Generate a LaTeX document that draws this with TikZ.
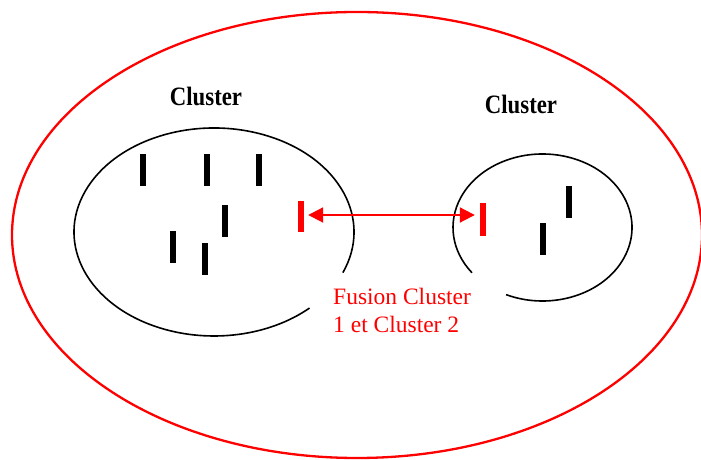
\documentclass[tikz,border=0pt]{standalone}
\usepackage{fontspec}
\setmainfont{Liberation Serif}
\usetikzlibrary{arrows.meta,calc}
\begin{document}
\begin{tikzpicture}[x=1pt,y=1pt,
  pt/.style={fill=black,draw=none,minimum width=6pt,minimum height=32pt,inner sep=0pt},
  redpt/.style={fill=red,draw=none,minimum width=6pt,inner sep=0pt},
  clabel/.style={anchor=base,inner sep=0pt,font=\fontsize{26.5}{30}\selectfont\bfseries},
  ftext/.style={anchor=base west,inner sep=0pt,align=left,text=red,font=\fontsize{23.5}{28}\selectfont},
  clus/.style={draw=black,line width=1.6pt},
  fusion/.style={draw=red,line width=2.3pt}]
\useasboundingbox (0,0) rectangle (701,460);
% outer red ellipse
\draw[fusion] (357,225) ellipse [x radius=345pt, y radius=223pt];
% left cluster (open arc)
\draw[clus] ($(214,228)+(-23:140pt and 104pt)$) arc [start angle=-23, end angle=313, x radius=140pt, y radius=104pt];
% right cluster (open arc)
\draw[clus] ($(542.5,232.5)+(246:89.5pt and 73.5pt)$) arc [start angle=246, end angle=578, x radius=89.5pt, y radius=73.5pt];
% labels
\node[clabel] (l1) at (206,354) {\scalebox{0.86}[1]{Cluster}};
\node[clabel] (l2) at (521,346) {\scalebox{0.86}[1]{Cluster}};
% black points
\node[pt] (a1) at (143,290) {};
\node[pt] (a2) at (207,290) {};
\node[pt] (a3) at (259,290) {};
\node[pt] (a4) at (225,238.5) {};
\node[pt] (a5) at (173,212.5) {};
\node[pt] (a6) at (205,201) {};
\node[pt] (b1) at (569,258) {};
\node[pt] (b2) at (543,220.5) {};
% red points
\node[redpt,minimum height=31pt] (lbar) at (301,243.5) {};
\node[redpt,minimum height=33pt] (rbar) at (483,240.5) {};
\coordinate (arrowL) at ([shift={(4pt,1.5pt)}]lbar.east);
\coordinate (arrowR) at ([xshift=-5pt]rbar.west |- arrowL);
\draw[red,line width=2pt,{Triangle[length=15pt,width=15pt]}-{Triangle[length=15pt,width=15pt]}] (arrowL) -- (arrowR);
% fusion text
\node[ftext] (ft) at (333,127) {Fusion Cluster\\1 et Cluster 2};
\end{tikzpicture}
\end{document}
